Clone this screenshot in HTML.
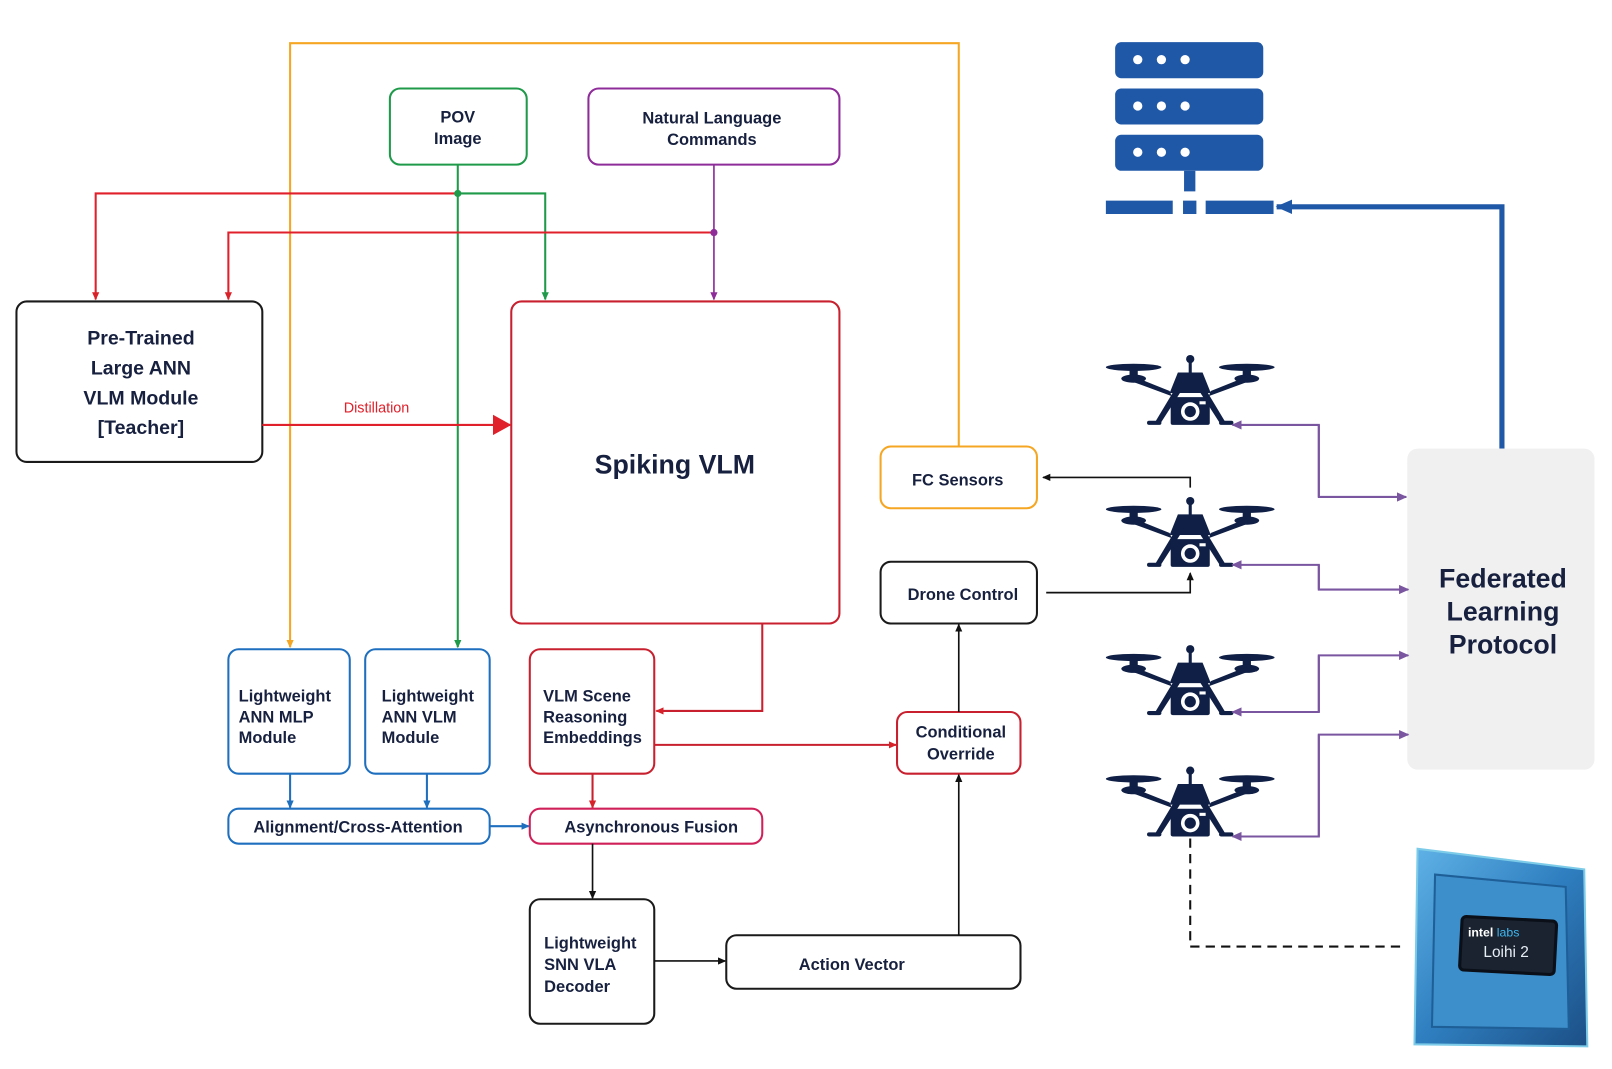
<!DOCTYPE html>
<html><head><meta charset="utf-8"><style>
html,body{margin:0;padding:0;background:#fff;}
svg{display:block;}
text{font-family:"Liberation Sans",Arial,sans-serif;font-weight:bold;fill:#17213f;}
</style></head><body>
<svg width="1612" height="1069" viewBox="0 0 1567 1039" preserveAspectRatio="none" xmlns="http://www.w3.org/2000/svg">
<defs>
<marker id="ar" markerWidth="8" markerHeight="8" refX="7" refY="4" orient="auto" markerUnits="userSpaceOnUse"><path d="M0,0.5 L8,4 L0,7.5Z" fill="#d8222a"/></marker>
<marker id="ag" markerWidth="8" markerHeight="8" refX="7" refY="4" orient="auto" markerUnits="userSpaceOnUse"><path d="M0,0.5 L8,4 L0,7.5Z" fill="#1f9a4a"/></marker>
<marker id="ap" markerWidth="8" markerHeight="8" refX="7" refY="4" orient="auto" markerUnits="userSpaceOnUse"><path d="M0,0.5 L8,4 L0,7.5Z" fill="#8e2c9a"/></marker>
<marker id="ao" markerWidth="8" markerHeight="8" refX="7" refY="4" orient="auto" markerUnits="userSpaceOnUse"><path d="M0,0.5 L8,4 L0,7.5Z" fill="#f5a623"/></marker>
<marker id="ab" markerWidth="8" markerHeight="8" refX="7" refY="4" orient="auto" markerUnits="userSpaceOnUse"><path d="M0,0.5 L8,4 L0,7.5Z" fill="#1f6fbf"/></marker>
<marker id="ak" markerWidth="8" markerHeight="8" refX="7" refY="4" orient="auto" markerUnits="userSpaceOnUse"><path d="M0,0.5 L8,4 L0,7.5Z" fill="#111"/></marker>
<marker id="av" markerWidth="10" markerHeight="10" refX="9" refY="5" orient="auto" markerUnits="userSpaceOnUse"><path d="M0,0.5 L10,5 L0,9.5Z" fill="#7a55a0"/></marker>
<marker id="abig" markerWidth="18" markerHeight="20" refX="17" refY="10" orient="auto" markerUnits="userSpaceOnUse"><path d="M0,0 L18,10 L0,20Z" fill="#e0202a"/></marker>
<marker id="ablue" markerWidth="16" markerHeight="16" refX="15" refY="8" orient="auto" markerUnits="userSpaceOnUse"><path d="M0,1 L16,8 L0,15Z" fill="#2058a8"/></marker>
<g id="drone" fill="#0f1f45" stroke="none">
  <circle cx="0" cy="-31" r="4"/>
  <rect x="-1.5" y="-31" width="3" height="14"/>
  <ellipse cx="-55" cy="-23" rx="27" ry="3.5"/>
  <ellipse cx="55" cy="-23" rx="27" ry="3.5"/>
  <rect x="-59" y="-23" width="8" height="12"/>
  <rect x="51" y="-23" width="8" height="12"/>
  <ellipse cx="-55" cy="-12" rx="12" ry="4"/>
  <ellipse cx="55" cy="-12" rx="12" ry="4"/>
  <path d="M-55,-14 L-20,0 L-18,5 L-56,-9Z"/>
  <path d="M55,-14 L20,0 L18,5 L56,-9Z"/>
  <path d="M-12,-18 L12,-18 L20,2 L-20,2Z"/>
  <path d="M-16,0 L-34,30 L-28,30 L-10,2Z"/>
  <path d="M16,0 L34,30 L28,30 L10,2Z"/>
  <rect x="-42" y="29" width="14" height="4" rx="2"/>
  <rect x="28" y="29" width="14" height="4" rx="2"/>
  <rect x="-19" y="6" width="38" height="27" rx="2"/>
  <circle cx="0" cy="20" r="9" fill="#fff"/>
  <circle cx="0" cy="20" r="5.5"/>
  <rect x="9" y="10" width="6" height="3" fill="#fff"/>
</g>
</defs>

<polyline points="932,434 932,42 282,42 282,629" fill="none" stroke="#f5a623" stroke-width="2" marker-end="url(#ao)"/>

<rect x="379" y="86" width="133" height="74" rx="10" fill="#fff" stroke="#1f9a4a" stroke-width="2"/>
<text x="445" y="119" font-size="16" text-anchor="middle">POV</text>
<text x="445" y="140" font-size="16" text-anchor="middle">Image</text>
<rect x="572" y="86" width="244" height="74" rx="10" fill="#fff" stroke="#8e2c9a" stroke-width="2"/>
<text x="692" y="120" font-size="16" text-anchor="middle">Natural Language</text>
<text x="692" y="141" font-size="16" text-anchor="middle">Commands</text>

<polyline points="445,160 445,629" fill="none" stroke="#1f9a4a" stroke-width="2" marker-end="url(#ag)"/>
<polyline points="445,188 530,188 530,291" fill="none" stroke="#1f9a4a" stroke-width="2" marker-end="url(#ag)"/>
<polyline points="445,188 93,188 93,291" fill="none" stroke="#e0202a" stroke-width="2" marker-end="url(#ar)"/>
<polyline points="694,226 222,226 222,291" fill="none" stroke="#e0202a" stroke-width="2" marker-end="url(#ar)"/>
<circle cx="445" cy="188" r="3.5" fill="#1f9a4a"/>
<polyline points="694,160 694,291" fill="none" stroke="#8e2c9a" stroke-width="1.6" marker-end="url(#ap)"/>
<circle cx="694" cy="226" r="3.5" fill="#8e2c9a"/>

<rect x="16" y="293" width="239" height="156" rx="10" fill="#fff" stroke="#1a1a1a" stroke-width="2"/>
<text x="137" y="335" font-size="19" text-anchor="middle">Pre-Trained</text>
<text x="137" y="364" font-size="19" text-anchor="middle">Large ANN</text>
<text x="137" y="393" font-size="19" text-anchor="middle">VLM Module</text>
<text x="137" y="422" font-size="19" text-anchor="middle">[Teacher]</text>

<rect x="497" y="293" width="319" height="313" rx="10" fill="#fff" stroke="#c8202e" stroke-width="2"/>
<text x="656" y="460" font-size="26" text-anchor="middle">Spiking VLM</text>

<line x1="255" y1="413" x2="496" y2="413" stroke="#e0202a" stroke-width="2" marker-end="url(#abig)"/>
<text x="366" y="401" font-size="14" text-anchor="middle" style="fill:#e0202a;font-weight:normal">Distillation</text>

<rect x="856" y="434" width="152" height="60" rx="10" fill="#fff" stroke="#f5a623" stroke-width="2"/>
<text x="931" y="472" font-size="16" text-anchor="middle">FC Sensors</text>
<rect x="856" y="546" width="152" height="60" rx="10" fill="#fff" stroke="#1a1a1a" stroke-width="2"/>
<text x="936" y="583" font-size="16" text-anchor="middle">Drone Control</text>

<rect x="222" y="631" width="118" height="121" rx="10" fill="#fff" stroke="#1f6fbf" stroke-width="2"/>
<text x="232" y="682" font-size="16">Lightweight</text>
<text x="232" y="702" font-size="16">ANN MLP</text>
<text x="232" y="722" font-size="16">Module</text>
<rect x="355" y="631" width="121" height="121" rx="10" fill="#fff" stroke="#1f6fbf" stroke-width="2"/>
<text x="371" y="682" font-size="16">Lightweight</text>
<text x="371" y="702" font-size="16">ANN VLM</text>
<text x="371" y="722" font-size="16">Module</text>
<rect x="515" y="631" width="121" height="121" rx="10" fill="#fff" stroke="#c8202e" stroke-width="2"/>
<text x="528" y="682" font-size="16">VLM Scene</text>
<text x="528" y="702" font-size="16">Reasoning</text>
<text x="528" y="722" font-size="16">Embeddings</text>
<rect x="872" y="692" width="120" height="60" rx="10" fill="#fff" stroke="#c8202e" stroke-width="2"/>
<text x="934" y="717" font-size="16" text-anchor="middle">Conditional</text>
<text x="934" y="738" font-size="16" text-anchor="middle">Override</text>

<rect x="222" y="786" width="254" height="34" rx="10" fill="#fff" stroke="#1f6fbf" stroke-width="2"/>
<text x="348" y="809" font-size="16" text-anchor="middle">Alignment/Cross-Attention</text>
<rect x="515" y="786" width="226" height="34" rx="10" fill="#fff" stroke="#d0205a" stroke-width="2"/>
<text x="633" y="809" font-size="16" text-anchor="middle">Asynchronous Fusion</text>

<rect x="515" y="874" width="121" height="121" rx="10" fill="#fff" stroke="#1a1a1a" stroke-width="2"/>
<text x="529" y="922" font-size="16">Lightweight</text>
<text x="529" y="943" font-size="16">SNN VLA</text>
<text x="529" y="964" font-size="16">Decoder</text>
<rect x="706" y="909" width="286" height="52" rx="10" fill="#fff" stroke="#1a1a1a" stroke-width="2"/>
<text x="828" y="943" font-size="16" text-anchor="middle">Action Vector</text>

<polyline points="741,606 741,691 638,691" fill="none" stroke="#c8202e" stroke-width="2" marker-end="url(#ar)"/>
<line x1="636" y1="724" x2="871" y2="724" stroke="#c8202e" stroke-width="2" marker-end="url(#ar)"/>
<line x1="576" y1="752" x2="576" y2="785" stroke="#c8202e" stroke-width="2" marker-end="url(#ar)"/>
<line x1="282" y1="752" x2="282" y2="785" stroke="#1f6fbf" stroke-width="2" marker-end="url(#ab)"/>
<line x1="415" y1="752" x2="415" y2="785" stroke="#1f6fbf" stroke-width="2" marker-end="url(#ab)"/>
<line x1="476" y1="803" x2="514" y2="803" stroke="#1f6fbf" stroke-width="2" marker-end="url(#ab)"/>
<line x1="576" y1="820" x2="576" y2="873" stroke="#111" stroke-width="1.6" marker-end="url(#ak)"/>
<line x1="636" y1="934" x2="705" y2="934" stroke="#111" stroke-width="1.6" marker-end="url(#ak)"/>
<line x1="932" y1="909" x2="932" y2="753" stroke="#111" stroke-width="1.6" marker-end="url(#ak)"/>
<line x1="932" y1="692" x2="932" y2="607" stroke="#111" stroke-width="1.6" marker-end="url(#ak)"/>
<polyline points="1017,576 1157,576 1157,557" fill="none" stroke="#111" stroke-width="1.6" marker-end="url(#ak)"/>
<polyline points="1157,474 1157,464 1014,464" fill="none" stroke="#111" stroke-width="1.6" marker-end="url(#ak)"/>

<g fill="#2058a8">
<rect x="1084" y="41" width="144" height="35" rx="6"/>
<rect x="1084" y="86" width="144" height="35" rx="6"/>
<rect x="1084" y="131" width="144" height="35" rx="6"/>
<rect x="1151" y="166" width="11" height="20"/>
<rect x="1075" y="195" width="65" height="13"/>
<rect x="1150" y="195" width="13" height="13"/>
<rect x="1172" y="195" width="66" height="13"/>
</g>
<g fill="#fff">
<circle cx="1106" cy="58" r="4.5"/><circle cx="1129" cy="58" r="4.5"/><circle cx="1152" cy="58" r="4.5"/>
<circle cx="1106" cy="103" r="4.5"/><circle cx="1129" cy="103" r="4.5"/><circle cx="1152" cy="103" r="4.5"/>
<circle cx="1106" cy="148" r="4.5"/><circle cx="1129" cy="148" r="4.5"/><circle cx="1152" cy="148" r="4.5"/>
</g>
<polyline points="1460,436 1460,201 1241,201" fill="none" stroke="#2058a8" stroke-width="5" marker-end="url(#ablue)"/>

<rect x="1368" y="436" width="182" height="312" rx="10" fill="#f0f0f0"/>
<text x="1461" y="571" font-size="26" text-anchor="middle">Federated</text>
<text x="1461" y="603" font-size="26" text-anchor="middle">Learning</text>
<text x="1461" y="635" font-size="26" text-anchor="middle">Protocol</text>

<use href="#drone" x="1157" y="380"/>
<use href="#drone" x="1157" y="518"/>
<use href="#drone" x="1157" y="662"/>
<use href="#drone" x="1157" y="780"/>

<g fill="none" stroke="#7a55a0" stroke-width="2">
<polyline points="1282,483 1282,413 1198,413" marker-end="url(#av)"/>
<polyline points="1282,413 1282,483 1367,483" marker-end="url(#av)"/>
<polyline points="1282,573 1282,549 1198,549" marker-end="url(#av)"/>
<polyline points="1282,549 1282,573 1369,573" marker-end="url(#av)"/>
<polyline points="1282,692 1282,637 1369,637" marker-end="url(#av)"/>
<polyline points="1282,637 1282,692 1198,692" marker-end="url(#av)"/>
<polyline points="1282,813 1282,714 1369,714" marker-end="url(#av)"/>
<polyline points="1282,714 1282,813 1198,813" marker-end="url(#av)"/>
</g>

<polyline points="1157,815 1157,920 1365,920" fill="none" stroke="#111" stroke-width="2" stroke-dasharray="9,6"/>

<defs><linearGradient id="cg" x1="0" y1="0" x2="1" y2="1">
<stop offset="0" stop-color="#5fb2e6"/><stop offset="0.5" stop-color="#2f7fc0"/><stop offset="1" stop-color="#1c4f86"/></linearGradient></defs>
<path d="M1378,825 L1540,845 L1543,1017 L1375,1015Z" fill="url(#cg)" stroke="#7ccbe8" stroke-width="2"/>
<path d="M1395,850 L1522,862 L1525,1000 L1392,998Z" fill="#3d8fcc" stroke="#1f5f98" stroke-width="2"/>
<rect x="1420" y="893" width="92" height="52" rx="4" fill="#1b2330" stroke="#0a0f18" stroke-width="3" transform="rotate(3 1466 919)"/>
<text x="1427" y="910" font-size="12" style="fill:#fff">intel <tspan style="fill:#3fb8f0;font-weight:normal">labs</tspan></text>
<text x="1442" y="930" font-size="15" style="fill:#e8eef5;font-weight:normal">Loihi 2</text>
</svg>
</body></html>
